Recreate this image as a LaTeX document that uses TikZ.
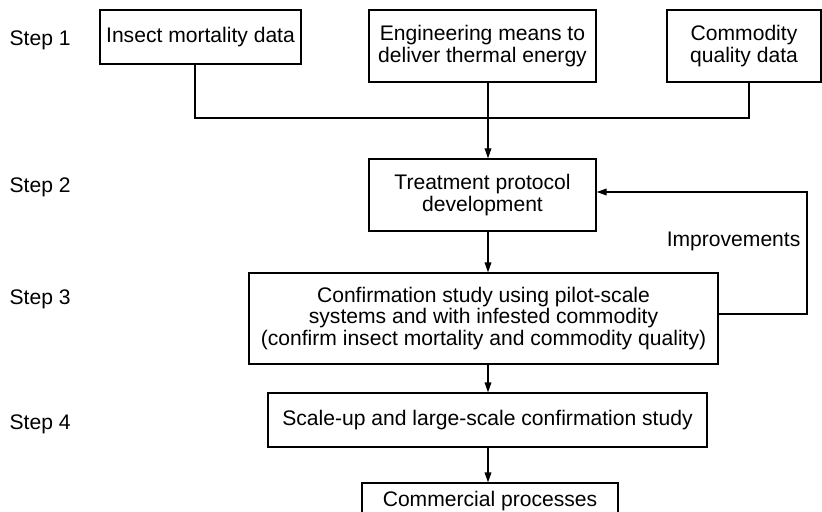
\documentclass[tikz,border=0pt]{standalone}
\usepackage{fontspec}
\setmainfont{Liberation Sans}
\usetikzlibrary{arrows.meta}

\begin{document}
\begin{tikzpicture}[x=0.03cm,y=-0.03cm,line width=1.1pt,
    font=\fontsize{18}{18.5}\selectfont,
    box/.style={draw,align=center,inner sep=0pt},
    steplabel/.style={anchor=base west,inner sep=0pt},
    arr/.style={-{Triangle[length=3mm,width=2mm]}}]
    \clip (0,0) rectangle (822,512);
    % step labels on the left
    \node[steplabel] (s1) at (9,46) {Step 1};
    \node[steplabel] (s2) at (9,193) {Step 2};
    \node[steplabel] (s3) at (9,304) {Step 3};
    \node[steplabel] (s4) at (9,429) {Step 4};
    % the boxes
    \node[box,minimum width=6.03cm,minimum height=1.62cm] (insect) at (200.5,37) {Insect mortality data};
    \node[box,minimum width=6.81cm,minimum height=2.16cm] (eng) at (482.5,46) {Engineering means to\\deliver thermal energy};
    \node[box,minimum width=4.62cm,minimum height=2.16cm] (quality) at (744,46) {Commodity\\quality data};
    \node[box,minimum width=6.81cm,minimum height=2.16cm] (protocol) at (482.5,195) {Treatment protocol\\development};
    \node[box,minimum width=14.07cm,minimum height=2.73cm] (confirm) at (483.5,318.5) {Confirmation study using pilot-scale\\systems and with infested commodity\\(confirm insect mortality and commodity quality)};
    \node[box,minimum width=13.17cm,minimum height=1.62cm] (scaleup) at (487.5,420) {Scale-up and large-scale confirmation study};
    \node[box,minimum width=7.68cm,minimum height=1.08cm] (commercial) at (490,501) {Commercial processes};
    % joining the three inputs
    \coordinate (jl) at (195,118);
    \coordinate (jr) at (749,118);
    \coordinate (spine) at (488,118);
    \draw (insect.south -| jl) -- (jl) -- (jr) -- (quality.south -| jr);
    \draw[arr] (eng.south -| spine) -- (protocol.north -| spine);
    \draw[arr] (protocol.south -| spine) -- (confirm.north -| spine);
    \draw[arr] (confirm.south -| spine) -- (scaleup.north -| spine);
    \draw[arr] (scaleup.south -| spine) -- (commercial.north -| spine);
    % feedback loop
    \coordinate (fbl) at (807,314);
    \coordinate (fbu) at (807,192);
    \draw[arr] (confirm.east |- fbl) -- (fbl) -- (fbu) -- (protocol.east |- fbu);
    \node[anchor=east,inner sep=0pt] (impr) at (801,241) {Improvements};
\end{tikzpicture}
\end{document}
